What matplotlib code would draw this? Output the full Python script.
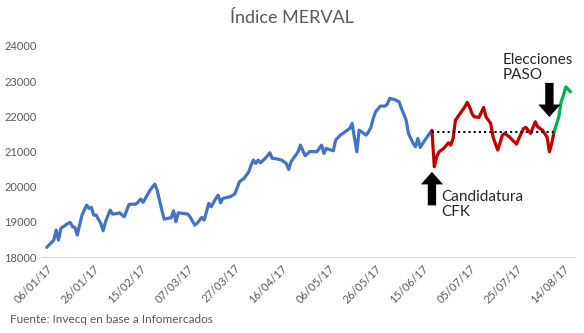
import pandas as pd
import matplotlib
matplotlib.use("Agg")
import matplotlib.pyplot as plt

# Índice MERVAL 2017
fechas = [
    "2017-01-06", "2017-01-09", "2017-01-10", "2017-01-11", "2017-01-12", "2017-01-15",
    "2017-01-16", "2017-01-17", "2017-01-18", "2017-01-19", "2017-01-20", "2017-01-21",
    "2017-01-23", "2017-01-24", "2017-01-25", "2017-01-26", "2017-01-27", "2017-01-29",
    "2017-01-30", "2017-01-31", "2017-02-02", "2017-02-03", "2017-02-05", "2017-02-06",
    "2017-02-08", "2017-02-09", "2017-02-10", "2017-02-13", "2017-02-14", "2017-02-15",
    "2017-02-16", "2017-02-19", "2017-02-21", "2017-02-22", "2017-02-24", "2017-02-25",
    "2017-02-28", "2017-03-01", "2017-03-02", "2017-03-03", "2017-03-05", "2017-03-07",
    "2017-03-08", "2017-03-10", "2017-03-11", "2017-03-13", "2017-03-14", "2017-03-15",
    "2017-03-16", "2017-03-17", "2017-03-19", "2017-03-20", "2017-03-21", "2017-03-22",
    "2017-03-25", "2017-03-27", "2017-03-28", "2017-03-29", "2017-03-31", "2017-04-02",
    "2017-04-03", "2017-04-04", "2017-04-05", "2017-04-06", "2017-04-07", "2017-04-09",
    "2017-04-11", "2017-04-12", "2017-04-13", "2017-04-16", "2017-04-18", "2017-04-19",
    "2017-04-20", "2017-04-23", "2017-04-24", "2017-04-26", "2017-04-28", "2017-05-01",
    "2017-05-03", "2017-05-04", "2017-05-05", "2017-05-08", "2017-05-09", "2017-05-11",
    "2017-05-13", "2017-05-15", "2017-05-16", "2017-05-18", "2017-05-19", "2017-05-20",
    "2017-05-22", "2017-05-23", "2017-05-24", "2017-05-25", "2017-05-26", "2017-05-28",
    "2017-05-30", "2017-05-31", "2017-06-01", "2017-06-03", "2017-06-05", "2017-06-06",
    "2017-06-08", "2017-06-09", "2017-06-11", "2017-06-12", "2017-06-13", "2017-06-14",
    "2017-06-16", "2017-06-18", "2017-06-19", "2017-06-20", "2017-06-21", "2017-06-22",
    "2017-06-24", "2017-06-26", "2017-06-27", "2017-06-28", "2017-06-29", "2017-07-01",
    "2017-07-03", "2017-07-04", "2017-07-05", "2017-07-06", "2017-07-07", "2017-07-09",
    "2017-07-11", "2017-07-12", "2017-07-14", "2017-07-15", "2017-07-17", "2017-07-19",
    "2017-07-20", "2017-07-22", "2017-07-24", "2017-07-25", "2017-07-26", "2017-07-28",
    "2017-07-29", "2017-07-31", "2017-08-02", "2017-08-03", "2017-08-05", "2017-08-07",
    "2017-08-08", "2017-08-09", "2017-08-10", "2017-08-12", "2017-08-13", "2017-08-14",
    "2017-08-15", "2017-08-17",
]
valores = [
    18276, 18483, 18767, 18483, 18815, 18957,
    18985, 18860, 18843, 18625, 18910, 19193,
    19477, 19383, 19412, 19193, 19193, 18957,
    18747, 19003, 19335, 19221, 19241, 19259,
    19145, 19315, 19497, 19506, 19571, 19648,
    19554, 19903, 20074, 19903, 19335, 19080,
    19120, 19315, 19003, 19259, 19241, 19221,
    19145, 18910, 18957, 19128, 19051, 19287,
    19526, 19430, 19667, 19761, 19543, 19667,
    19713, 19790, 19951, 20139, 20236, 20423,
    20614, 20756, 20661, 20756, 20680, 20803,
    20963, 20803, 20803, 20756, 20661, 20491,
    20708, 20992, 21182, 20880, 21000, 20992,
    21182, 20946, 21088, 21020, 21324, 21466,
    21560, 21655, 21797, 20992, 21608, 21560,
    21466, 21560, 21684, 21940, 22128, 22290,
    22290, 22347, 22509, 22480, 22412, 22225,
    21892, 21514, 21230, 21134, 21372, 21116,
    21324, 21514, 21600, 20565, 20849, 20992,
    21088, 21247, 21182, 21372, 21892, 22082,
    22270, 22395, 22270, 22082, 21986, 21968,
    22253, 21986, 21798, 21415, 21040, 21466,
    21514, 21415, 21276, 21210, 21372, 21655,
    21684, 21514, 21845, 21703, 21608, 21415,
    20992, 21230, 21560, 21986, 22412, 22600,
    22838, 22696,
]

fecha_cfk = "2017-06-19"
fecha_paso = "2017-08-10"
fecha_flecha_paso = "2017-08-08"
nivel_cfk = 21550

ticks = pd.date_range("2017-01-06", periods=12, freq="20D")
tick_labels = [t.strftime("%d/%m/%y") for t in ticks]

serie = pd.Series(valores, index=pd.to_datetime(fechas))
antes = serie[:fecha_cfk]
durante = serie[fecha_cfk:fecha_paso]
despues = serie[fecha_paso:]

plt.rcParams["font.family"] = ["Lato", "DejaVu Sans"]
gris = "#595959"

fig = plt.figure(figsize=(5.84, 3.33), dpi=100)
ax = fig.add_axes([0.072, 0.228, 0.913, 0.634])

ax.plot(antes.index, antes.values, color="#4472C4", lw=2.3, solid_capstyle="round")
ax.plot(durante.index, durante.values, color="#C00000", lw=2.3, solid_capstyle="round")
ax.plot(despues.index, despues.values, color="#00B050", lw=2.3, solid_capstyle="round")

# nivel al anuncio de la candidatura
ax.plot([pd.Timestamp(fecha_cfk), pd.Timestamp(fecha_paso)], [nivel_cfk, nivel_cfk],
        color="black", lw=1.5, ls=(0, (1, 1.5)))

# flechas
ax.annotate("", xy=(pd.Timestamp(fecha_cfk), 20420), xytext=(pd.Timestamp(fecha_cfk), 19470),
            arrowprops=dict(facecolor="black", edgecolor="none", width=6, headwidth=16,
                            headlength=9, shrink=0))
ax.annotate("", xy=(pd.Timestamp(fecha_flecha_paso), 21980), xytext=(pd.Timestamp(fecha_flecha_paso), 22950),
            arrowprops=dict(facecolor="black", edgecolor="none", width=6, headwidth=16,
                            headlength=9, shrink=0))

ax.text(pd.Timestamp("2017-06-23"), 19900, "Candidatura\nCFK", fontsize=11,
        color="#262626", va="top", ha="left", linespacing=1.1)
ax.text(pd.Timestamp("2017-07-19"), 23800, "Elecciones\nPASO", fontsize=11,
        color="#262626", va="top", ha="left", linespacing=1.1)

ax.set_xlim(pd.Timestamp("2017-01-04"), pd.Timestamp("2017-08-19"))
ax.set_ylim(18000, 24000)
ax.set_yticks(range(18000, 24001, 1000))
ax.set_xticks(ticks)
ax.set_xticklabels(tick_labels, rotation=45, ha="right", rotation_mode="anchor")
ax.tick_params(axis="both", length=0, labelsize=8, labelcolor=gris)
ax.tick_params(axis="y", pad=4)
ax.tick_params(axis="x", pad=4)

for s in ["top", "right", "left"]:
    ax.spines[s].set_visible(False)
ax.spines["bottom"].set_color("#d9d9d9")
ax.spines["bottom"].set_linewidth(0.8)

fig.text(0.5, 0.945, "Índice MERVAL", ha="center", va="center", fontsize=13,
         color=gris)
fig.text(0.017, 0.04, "Fuente: Invecq en base a Infomercados", ha="left", va="center",
         fontsize=8.5, color=gris)

fig.savefig("out.png", dpi=100)
